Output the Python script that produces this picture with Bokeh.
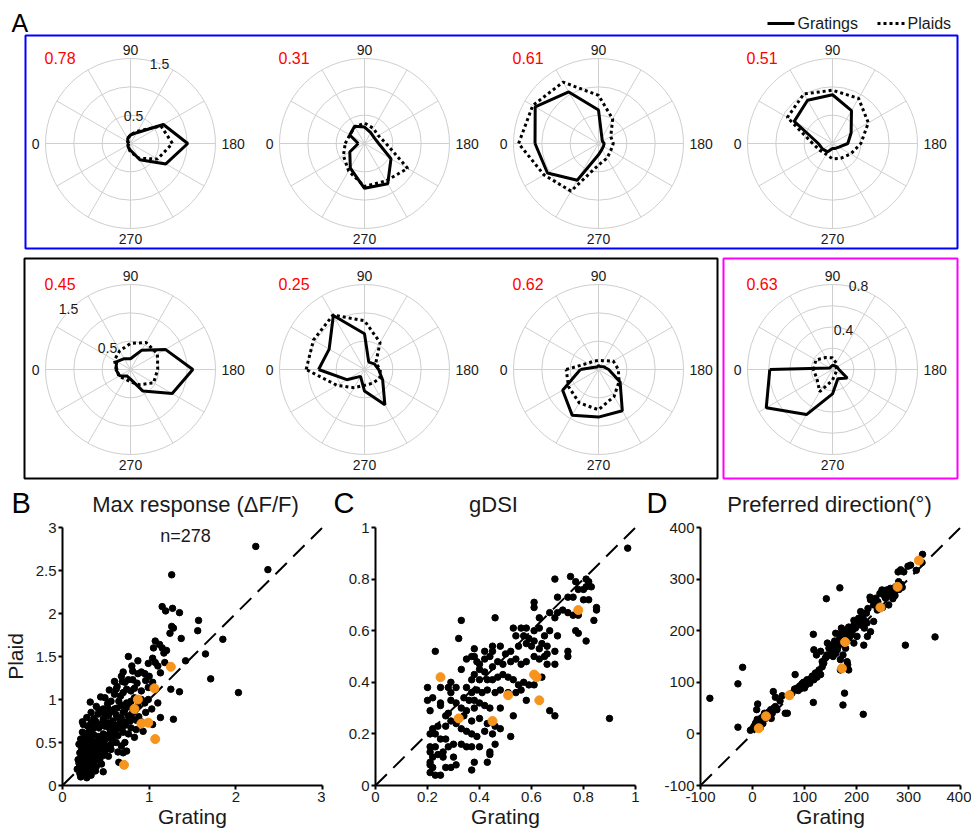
import math
from bokeh.plotting import figure
from bokeh.layouts import column, row
from bokeh.models import Range1d, FixedTicker, Label, CustomJSTickFormatter
from bokeh.embed import file_html
from bokeh.resources import INLINE
from bokeh.core.properties import value

FONT = "Liberation Sans"

# ---------------- Panel A data: direction tuning (response vs direction) ----------------
directions = [0, 30, 60, 90, 120, 150, 180, 210, 240, 270, 300, 330]

grating_1 = [0.03, 0.05, 0.10, 0.15, 0.22, 0.67, 1.01, 0.72, 0.33, 0.12, 0.08, 0.05]
plaid_1 = [0.03, 0.06, 0.10, 0.16, 0.25, 0.62, 0.74, 0.55, 0.30, 0.15, 0.08, 0.05]
grating_2 = [0.11, 0.30, 0.35, 0.29, 0.22, 0.20, 0.25, 0.54, 0.82, 0.79, 0.50, 0.30]
plaid_2 = [0.34, 0.30, 0.34, 0.36, 0.31, 0.28, 0.38, 0.88, 0.76, 0.76, 0.56, 0.43]
grating_3 = [1.12, 1.29, 1.05, 0.59, 0.12, 0.08, 0.10, 0.10, 0.12, 0.20, 0.75, 1.04]
plaid_3 = [1.41, 1.34, 1.25, 0.85, 0.50, 0.25, 0.26, 0.25, 0.30, 0.38, 0.97, 1.11]
grating_4 = [0.25, 0.78, 0.88, 0.86, 0.67, 0.38, 0.27, 0.13, 0.10, 0.09, 0.17, 0.20]
plaid_4 = [0.35, 0.92, 1.01, 0.94, 0.92, 0.73, 0.50, 0.37, 0.30, 0.27, 0.22, 0.25]
grating_5 = [0.26, 0.28, 0.22, 0.19, 0.39, 0.71, 1.10, 0.85, 0.44, 0.17, 0.13, 0.22]
plaid_5 = [0.24, 0.33, 0.38, 0.46, 0.55, 0.55, 0.48, 0.47, 0.31, 0.22, 0.19, 0.24]
grating_6 = [0.81, 0.72, 1.10, 0.63, 0.15, 0.20, 0.25, 0.37, 0.72, 0.38, 0.14, 0.36]
plaid_6 = [1.03, 1.04, 1.11, 0.86, 0.55, 0.23, 0.28, 0.31, 0.28, 0.28, 0.37, 0.56]
grating_7 = [0.32, 0.08, 0.05, 0.07, 0.06, 0.10, 0.18, 0.44, 0.84, 0.84, 0.93, 0.73]
plaid_7 = [0.57, 0.22, 0.17, 0.16, 0.18, 0.30, 0.35, 0.42, 0.55, 0.71, 0.68, 0.61]
grating_8 = [0.59, 0.03, 0.03, 0.04, 0.04, 0.05, 0.06, 0.16, 0.10, 0.23, 0.49, 0.72]
plaid_8 = [0.18, 0.18, 0.13, 0.11, 0.07, 0.04, 0.04, 0.04, 0.05, 0.10, 0.24, 0.17]

gdsi_text = ["0.78", "0.31", "0.61", "0.51", "0.45", "0.25", "0.62", "0.63"]
radial_max = [1.5, 1.5, 1.5, 1.5, 1.5, 1.5, 1.5, 0.8]
ring_count = [3, 3, 3, 3, 3, 3, 3, 4]
ring_labels_1 = ["0.5", "1.5"]
ring_labels_5 = ["0.5", "1.5"]
ring_labels_8 = ["0.4", "0.8"]
angle_labels = ["0", "90", "180", "270"]

panel_titles = ["Max response (ΔF/F)", "gDSI", "Preferred direction(°)"]
panel_letters = ["A", "B", "C", "D"]

gratings = [grating_1, grating_2, grating_3, grating_4, grating_5, grating_6, grating_7, grating_8]
plaids = [plaid_1, plaid_2, plaid_3, plaid_4, plaid_5, plaid_6, plaid_7, plaid_8]

# ---------------- Panels B-D data (grating, plaid) ----------------
max_response = [
    (2.23, 2.78), (2.37, 2.51), (1.26, 2.45), (1.15, 2.08), (1.19, 2.03), (1.27, 2.06), (1.35, 2.01),
    (1.57, 1.92), (1.26, 1.85), (1.28, 1.83), (1.24, 1.77), (1.56, 1.80), (1.37, 1.71), (1.85, 1.70),
    (1.07, 1.68), (1.12, 1.64), (1.05, 1.60), (1.15, 1.60), (1.20, 1.57), (1.17, 1.54), (1.65, 1.53),
    (1.42, 1.45), (0.76, 1.50), (0.87, 1.45), (1.04, 1.48), (1.07, 1.43), (1.10, 1.39), (0.99, 1.42),
    (0.80, 1.39), (0.95, 1.30), (1.00, 1.27), (0.91, 1.32), (0.70, 1.32), (0.69, 1.21), (0.72, 1.20),
    (0.81, 1.23), (0.86, 1.19), (0.96, 1.22), (0.83, 1.13), (0.74, 1.12), (0.62, 1.12), (0.60, 1.06),
    (0.67, 1.04), (0.65, 0.98), (0.79, 1.10), (0.91, 1.10), (0.99, 1.14), (1.04, 1.20), (1.13, 1.31),
    (1.18, 1.43), (1.25, 1.12), (1.35, 1.09), (1.28, 0.77), (1.71, 1.24), (2.03, 1.08), (0.32, 0.97),
    (0.44, 1.03), (0.52, 0.95), (0.56, 0.98), (0.47, 0.89), (0.53, 0.89), (0.60, 0.89), (0.68, 0.93),
    (0.74, 0.96), (0.79, 0.98), (0.83, 1.02), (0.91, 1.00), (0.95, 0.96), (0.99, 1.00), (0.87, 0.93),
    (0.81, 0.85), (0.76, 0.81), (0.70, 0.85), (0.64, 0.79), (0.58, 0.75), (0.53, 0.81), (0.47, 0.77),
    (0.41, 0.83), (0.38, 0.75), (0.33, 0.73), (0.29, 0.69), (0.24, 0.71), (0.23, 0.62), (0.30, 0.62),
    (0.35, 0.66), (0.42, 0.67), (0.49, 0.69), (0.54, 0.67), (0.61, 0.70), (0.66, 0.67), (0.72, 0.70),
    (0.79, 0.67), (0.85, 0.65), (0.76, 0.60), (0.83, 0.56), (0.93, 0.63), (1.04, 0.71), (1.13, 0.79),
    (1.03, 0.89), (1.10, 0.96), (0.70, 0.62), (0.64, 0.58), (0.58, 0.60), (0.52, 0.56), (0.47, 0.60),
    (0.41, 0.57), (0.36, 0.59), (0.30, 0.56), (0.26, 0.58), (0.21, 0.54), (0.19, 0.48), (0.24, 0.48),
    (0.29, 0.50), (0.33, 0.48), (0.39, 0.50), (0.45, 0.48), (0.51, 0.46), (0.56, 0.48), (0.62, 0.50),
    (0.68, 0.46), (0.72, 0.50), (0.22, 0.43), (0.28, 0.42), (0.33, 0.44), (0.38, 0.42), (0.44, 0.43),
    (0.49, 0.40), (0.56, 0.42), (0.64, 0.39), (0.70, 0.38), (0.74, 0.40), (0.20, 0.38), (0.25, 0.37),
    (0.30, 0.39), (0.35, 0.35), (0.41, 0.37), (0.47, 0.35), (0.53, 0.34), (0.21, 0.32), (0.27, 0.30),
    (0.31, 0.32), (0.37, 0.29), (0.43, 0.30), (0.19, 0.26), (0.24, 0.25), (0.29, 0.26), (0.33, 0.24),
    (0.39, 0.22), (0.45, 0.25), (0.65, 0.27), (0.22, 0.20), (0.28, 0.19), (0.33, 0.19), (0.38, 0.17),
    (0.47, 0.16), (0.20, 0.14), (0.26, 0.13), (0.30, 0.14), (0.21, 0.10), (0.17, 0.19), (0.33, 0.12),
    (0.68, 0.66), (0.78, 0.75), (0.85, 0.76), (0.91, 0.74), (0.96, 0.85), (0.70, 1.08), (0.63, 1.15),
    (0.76, 1.23), (0.68, 1.27), (0.81, 1.33), (0.87, 1.30), (0.60, 1.21), (0.54, 1.11), (0.49, 1.02),
    (0.39, 0.92), (0.33, 0.85), (0.28, 0.79), (0.23, 0.74), (0.22, 0.50), (0.25, 0.45), (0.27, 0.55),
    (0.31, 0.45), (0.34, 0.52), (0.36, 0.40), (0.23, 0.35), (0.26, 0.27), (0.29, 0.33), (0.32, 0.28),
    (0.24, 0.22), (0.27, 0.16), (0.31, 0.22), (0.35, 0.30), (0.40, 0.33), (0.42, 0.45), (0.37, 0.47),
    (0.44, 0.55), (0.48, 0.52), (0.50, 0.58), (0.55, 0.62), (0.58, 0.53), (0.61, 0.65), (0.66, 0.72),
    (0.57, 0.70), (0.52, 0.73), (0.45, 0.72), (0.40, 0.70), (0.36, 0.78), (0.42, 0.88), (0.48, 0.84),
    (0.56, 0.86), (0.63, 0.90), (0.72, 0.88), (0.77, 0.92), (0.84, 0.88), (0.88, 0.80), (0.80, 0.78),
    (0.74, 0.74), (0.68, 0.78), (0.62, 0.82), (0.18, 0.30), (0.20, 0.22), (0.23, 0.12), (0.28, 0.09),
]
max_response_example = [(0.71, 0.24), (1.07, 0.54), (0.91, 0.72), (0.99, 0.73), (0.83, 0.89),
                        (0.87, 1.00), (1.06, 1.13), (1.25, 1.38)]

gdsi = [
    (0.97, 0.92), (0.90, 0.26), (0.69, 0.80), (0.75, 0.81), (0.77, 0.79), (0.81, 0.80), (0.82, 0.79),
    (0.83, 0.77), (0.81, 0.77), (0.80, 0.76), (0.78, 0.76), (0.74, 0.73), (0.70, 0.73), (0.61, 0.71),
    (0.61, 0.69), (0.76, 0.73), (0.80, 0.72), (0.82, 0.72), (0.85, 0.69), (0.85, 0.68), (0.84, 0.64),
    (0.78, 0.66), (0.76, 0.66), (0.74, 0.67), (0.72, 0.68), (0.70, 0.67), (0.69, 0.65), (0.67, 0.67),
    (0.63, 0.65), (0.46, 0.65), (0.33, 0.64), (0.32, 0.57), (0.23, 0.52), (0.81, 0.56), (0.78, 0.59),
    (0.77, 0.60), (0.74, 0.52), (0.74, 0.50), (0.70, 0.58), (0.67, 0.60), (0.65, 0.58), (0.63, 0.61),
    (0.61, 0.60), (0.58, 0.61), (0.56, 0.61), (0.53, 0.61), (0.54, 0.58), (0.57, 0.58), (0.59, 0.57),
    (0.61, 0.56), (0.64, 0.55), (0.66, 0.54), (0.69, 0.52), (0.66, 0.51), (0.65, 0.50), (0.63, 0.53),
    (0.60, 0.54), (0.58, 0.55), (0.55, 0.54), (0.52, 0.52), (0.50, 0.51), (0.48, 0.54), (0.45, 0.52),
    (0.44, 0.50), (0.42, 0.49), (0.39, 0.48), (0.38, 0.50), (0.40, 0.45), (0.42, 0.44), (0.45, 0.46),
    (0.47, 0.48), (0.49, 0.47), (0.52, 0.48), (0.54, 0.49), (0.56, 0.47), (0.58, 0.48), (0.61, 0.50),
    (0.63, 0.49), (0.66, 0.47), (0.69, 0.47), (0.64, 0.42), (0.61, 0.39), (0.59, 0.39), (0.57, 0.40),
    (0.55, 0.39), (0.53, 0.41), (0.51, 0.42), (0.49, 0.43), (0.47, 0.42), (0.45, 0.41), (0.43, 0.41),
    (0.40, 0.41), (0.38, 0.43), (0.37, 0.41), (0.35, 0.38), (0.37, 0.36), (0.39, 0.37), (0.41, 0.36),
    (0.43, 0.37), (0.46, 0.36), (0.48, 0.37), (0.51, 0.36), (0.54, 0.36), (0.56, 0.37), (0.58, 0.33),
    (0.53, 0.27), (0.52, 0.19), (0.67, 0.29), (0.69, 0.27), (0.34, 0.34), (0.36, 0.33), (0.38, 0.33),
    (0.40, 0.32), (0.42, 0.31), (0.44, 0.30), (0.48, 0.30), (0.38, 0.30), (0.35, 0.29), (0.33, 0.30),
    (0.31, 0.32), (0.29, 0.33), (0.29, 0.36), (0.31, 0.38), (0.29, 0.40), (0.28, 0.38), (0.25, 0.38),
    (0.20, 0.38), (0.20, 0.33), (0.22, 0.34), (0.25, 0.32), (0.21, 0.29), (0.25, 0.31), (0.27, 0.27),
    (0.28, 0.28), (0.34, 0.27), (0.37, 0.25), (0.40, 0.26), (0.43, 0.24), (0.46, 0.23), (0.48, 0.22),
    (0.45, 0.20), (0.46, 0.16), (0.42, 0.21), (0.39, 0.19), (0.37, 0.20), (0.35, 0.21), (0.33, 0.22),
    (0.31, 0.24), (0.29, 0.25), (0.27, 0.23), (0.24, 0.23), (0.22, 0.22), (0.21, 0.20), (0.23, 0.20),
    (0.25, 0.18), (0.27, 0.18), (0.30, 0.16), (0.33, 0.16), (0.35, 0.15), (0.37, 0.15), (0.40, 0.15),
    (0.44, 0.13), (0.44, 0.12), (0.43, 0.09), (0.38, 0.09), (0.37, 0.06), (0.30, 0.11), (0.31, 0.08),
    (0.29, 0.07), (0.26, 0.11), (0.24, 0.12), (0.22, 0.11), (0.21, 0.15), (0.21, 0.13), (0.21, 0.09),
    (0.21, 0.08), (0.22, 0.07), (0.23, 0.04), (0.21, 0.05), (0.25, 0.04), (0.27, 0.07), (0.26, 0.13),
    (0.28, 0.15), (0.23, 0.15), (0.33, 0.45), (0.35, 0.49), (0.37, 0.50), (0.40, 0.47), (0.38, 0.53),
    (0.42, 0.52), (0.45, 0.54),
]
gdsi_example = [(0.25, 0.42), (0.32, 0.26), (0.45, 0.25), (0.51, 0.35), (0.61, 0.43), (0.62, 0.42),
                (0.63, 0.33), (0.78, 0.68)]

preferred_direction = [
    (-82, 69), (-28, 97), (-19, 129), (-28, 13), (142, 262), (168, 283), (117, 193), (117, 61),
    (177, 79), (174, 56), (213, 38), (294, 172), (351, 188), (299, 325), (315, 317), (326, 332),
    (327, 348), (285, 318), (280, 314), (-4, 7), (0, 10), (6, 21), (9, 28), (12, 23), (17, 31),
    (21, 34), (23, 40), (27, 37), (31, 42), (35, 47), (38, 40), (41, 50), (44, 53), (47, 47), (10, 58),
    (8, 47), (40, 82), (44, 71), (53, 64), (57, 74), (63, 40), (67, 40), (76, 79), (81, 87), (82, 115),
    (86, 89), (91, 93), (95, 97), (100, 89), (105, 105), (108, 102), (113, 108), (118, 105), (121, 118),
    (124, 110), (128, 124), (131, 115), (134, 130), (137, 137), (140, 147), (143, 153), (147, 166),
    (150, 169), (152, 160), (156, 172), (160, 156), (163, 163), (166, 182), (169, 189), (172, 198),
    (176, 185), (181, 201), (182, 192), (185, 207), (188, 198), (195, 211), (198, 205), (201, 218),
    (204, 224), (208, 211), (211, 227), (214, 221), (219, 234), (222, 243), (227, 260), (233, 250),
    (237, 263), (241, 256), (245, 272), (249, 279), (253, 269), (258, 279), (262, 272), (265, 282),
    (271, 276), (275, 285), (278, 279), (281, 295), (286, 290), (291, 314), (304, 327), (123, 153),
    (134, 140), (131, 160), (118, 163), (144, 176), (160, 195), (171, 205), (169, 144), (174, 153),
    (179, 166), (182, 140), (183, 134), (185, 124), (195, 176), (201, 189), (221, 189), (214, 172),
    (233, 218), (227, 198), (208, 237), (226, 265), (256, 263), (195, 220), (169, 124), (14, 18),
    (19, 26), (25, 30), (29, 35), (33, 38), (15, 12), (20, 20), (3, 15), (36, 30), (88, 84), (93, 88),
    (98, 100), (103, 95), (110, 98), (115, 112), (155, 150), (158, 180), (165, 170), (175, 175),
    (178, 190), (186, 186), (190, 192), (192, 200), (180, 178), (255, 265), (260, 268), (268, 270),
    (270, 262), (274, 268), (282, 280), (288, 284), (262, 250), (250, 245), (240, 240), (220, 215),
    (215, 205),
]
preferred_direction_example = [(12, 11), (26, 34), (71, 75), (172, 127), (178, 178), (246, 245),
                               (279, 285), (320, 336)]

# ---------------- Panel A (plus header strip of panels B-D) ----------------
TOP_H = 517
pa = figure(width=971, height=TOP_H, x_range=Range1d(0, 971), y_range=Range1d(TOP_H, 0),
            output_backend="svg", toolbar_location=None, min_border=0,
            x_axis_location=None, y_axis_location=None)
pa.grid.visible = False
pa.outline_line_color = None

col_x = [130, 364, 598, 832]
row_y = [143, 369]
R = 85
GRID = "#cfcfcf"
TXT = "#1a1a1a"

centers = [(cx, row_y[0]) for cx in col_x] + [(cx, row_y[1]) for cx in col_x]

for i, (cx, cy) in enumerate(centers):
    n = ring_count[i]
    pa.circle(x=[cx] * n, y=[cy] * n, radius=[R * (k + 1) / n for k in range(n)],
              fill_color=None, line_color=GRID, line_width=1)
    sx, sy = [], []
    for d in range(0, 180, 30):
        t = math.radians(d)
        sx.append([cx - R * math.cos(t), cx + R * math.cos(t)])
        sy.append([cy - R * math.sin(t), cy + R * math.sin(t)])
    pa.multi_line(sx, sy, line_color=GRID, line_width=1)

    def polar_xy(vals):
        xs, ys = [], []
        for d, v in zip(directions + [directions[0]], vals + [vals[0]]):
            t = math.radians(d)
            rr = R * v / radial_max[i]
            xs.append(cx - rr * math.cos(t))
            ys.append(cy - rr * math.sin(t))
        return xs, ys

    gx, gy = polar_xy(gratings[i])
    px, py = polar_xy(plaids[i])
    pa.line(px, py, line_color="black", line_width=3, line_dash="3 3")
    pa.line(gx, gy, line_color="black", line_width=3)

    pa.text(x=[cx, cx], y=[cy - R - 9, cy + R + 10], text=[angle_labels[1], angle_labels[3]],
            text_font=value(FONT), text_font_size="14px", text_align="center",
            text_baseline="middle", text_color=TXT)
    pa.text(x=[cx - R - 6], y=[cy], text=[angle_labels[0]], text_font=value(FONT),
            text_font_size="14px", text_align="right", text_baseline="middle", text_color=TXT)
    pa.text(x=[cx + R + 6], y=[cy], text=[angle_labels[2]], text_font=value(FONT),
            text_font_size="14px", text_align="left", text_baseline="middle", text_color=TXT)
    pa.text(x=[cx - 86], y=[cy - 86], text=[gdsi_text[i]], text_font=value(FONT),
            text_font_size="16px", text_align="left", text_baseline="middle", text_color="#ff0000")

# radial tick labels (inner ring label, outer ring label)
pa.text(x=[col_x[0] + 3, col_x[0] + 29], y=[row_y[0] - 28, row_y[0] - 80], text=ring_labels_1,
        text_font=value(FONT), text_font_size="14px", text_align="center", text_baseline="middle",
        text_color=TXT)
pa.text(x=[col_x[0] - 23, col_x[0] - 62], y=[row_y[1] - 22, row_y[1] - 61], text=ring_labels_5,
        text_font=value(FONT), text_font_size="14px", text_align="center", text_baseline="middle",
        text_color=TXT)
pa.text(x=[col_x[3] + 11, col_x[3] + 26], y=[row_y[1] - 40, row_y[1] - 84], text=ring_labels_8,
        text_font=value(FONT), text_font_size="14px", text_align="center", text_baseline="middle",
        text_color=TXT)

# group boxes
pa.quad(left=[25], right=[957], top=[35], bottom=[248], fill_color=None, line_color="#0000ff", line_width=2)
pa.quad(left=[24], right=[717], top=[258], bottom=[478], fill_color=None, line_color="#000000", line_width=2)
pa.quad(left=[723], right=[957], top=[258], bottom=[478], fill_color=None, line_color="#ff00ff", line_width=2)

# legend
pa.line([767, 794], [23, 23], line_color="black", line_width=3)
pa.line([877, 904], [23, 23], line_color="black", line_width=3, line_dash="3 3")
pa.text(x=[797, 907], y=[23, 23], text=["Gratings", "Plaids"], text_font=value(FONT),
        text_font_size="16px", text_align="left", text_baseline="middle", text_color=TXT)

# panel letters
pa.text(x=[11], y=[8], text=[panel_letters[0]], text_font=value(FONT), text_font_size="25px",
        text_align="left", text_baseline="top", text_color="black")
pa.text(x=[11, 333, 646], y=[486, 486, 486], text=panel_letters[1:], text_font=value(FONT),
        text_font_size="29px", text_align="left", text_baseline="top", text_color="black")
# titles of panels B-D
pa.text(x=[195, 493, 829], y=[504, 504, 504], text=panel_titles, text_font=value(FONT),
        text_font_size="22px", text_align="center", text_baseline="middle", text_color=TXT)


# ---------------- Panels B-D ----------------
def scatter_panel(data, example, xr, ticks_x, ticks_y, width, left, right, ylabel=None, note=None):
    p = figure(width=width, height=830 - TOP_H, x_range=Range1d(*xr), y_range=Range1d(*xr),
               output_backend="svg", toolbar_location=None,
               min_border_left=left, min_border_right=right, min_border_top=527 - TOP_H,
               min_border_bottom=43)
    p.outline_line_color = None
    p.grid.visible = False
    fmt = CustomJSTickFormatter(code="return String(tick);")
    for ax, tk in ((p.xaxis[0], ticks_x), (p.yaxis[0], ticks_y)):
        ax.ticker = FixedTicker(ticks=tk)
        ax.formatter = fmt
        ax.axis_line_width = 2
        ax.axis_line_color = "black"
        ax.major_tick_line_width = 2
        ax.major_tick_out = 4
        ax.major_tick_in = 0
        ax.minor_tick_out = 0
        ax.minor_tick_in = 0
        ax.major_label_text_font = FONT
        ax.major_label_text_font_size = "15px"
        ax.major_label_text_color = TXT
        ax.major_label_standoff = 2
        ax.axis_label_text_font = FONT
        ax.axis_label_text_font_size = "21px"
        ax.axis_label_text_font_style = "normal"
        ax.axis_label_text_color = TXT
        ax.axis_label_standoff = 0
    p.xaxis.axis_label = "Grating"
    if ylabel:
        p.yaxis.axis_label = ylabel
        p.yaxis.axis_label_standoff = 6

    p.line([xr[0], xr[1]], [xr[0], xr[1]], line_color="black", line_width=2, line_dash="16 9")
    p.scatter([d[0] for d in data], [d[1] for d in data], size=6.5, color="black")
    p.scatter([d[0] for d in example], [d[1] for d in example], size=9, color="#f7941d")

    if note:
        p.add_layout(Label(x=123, y=250, x_units="screen", y_units="screen", text=note,
                           text_font=FONT, text_font_size="18px", text_align="center",
                           text_baseline="middle", text_color=TXT))
    return p


pb = scatter_panel(max_response, max_response_example, (0, 3), [0, 1, 2, 3],
                   [0, 0.5, 1, 1.5, 2, 2.5, 3], 325, 61, 3, ylabel="Plaid", note="n=278")
pc = scatter_panel(gdsi, gdsi_example, (0, 1), [0, 0.2, 0.4, 0.6, 0.8, 1],
                   [0, 0.2, 0.4, 0.6, 0.8, 1], 325, 50, 15)
pd = scatter_panel(preferred_direction, preferred_direction_example, (-100, 400),
                   [-100, 0, 100, 200, 300, 400], [-100, 0, 100, 200, 300, 400], 321, 50, 11)

layout = column(pa, row(pb, pc, pd, spacing=0), spacing=0)
open("out.html", "w").write(file_html(layout, INLINE))
